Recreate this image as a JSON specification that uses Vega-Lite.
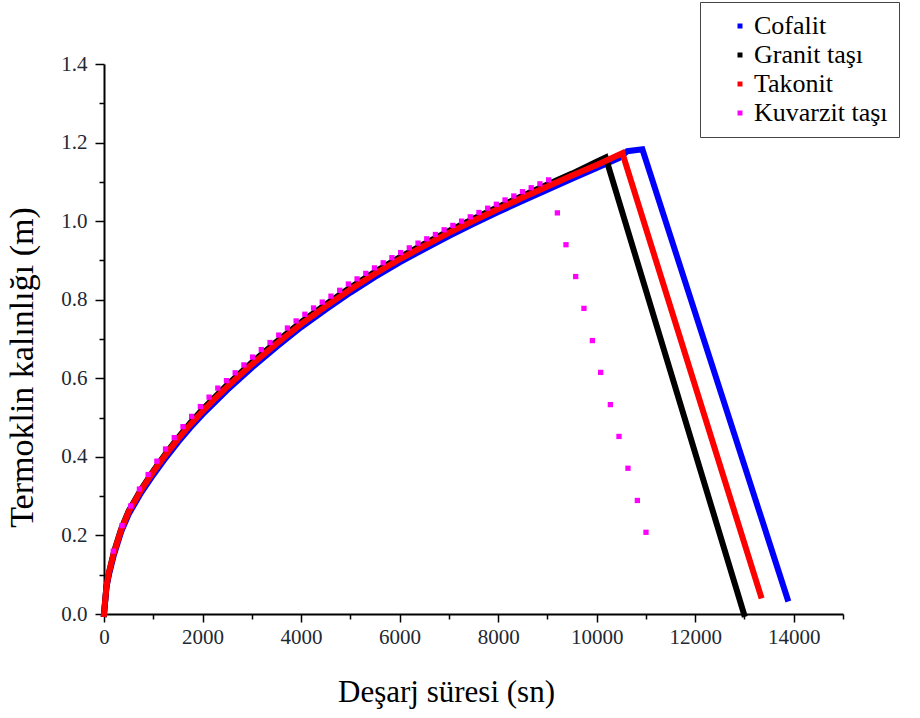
{
  "$schema": "https://vega.github.io/schema/vega-lite/v6.json",
  "width": 739,
  "height": 550,
  "autosize": {"type": "none"},
  "padding": {"left": 104, "top": 64, "right": 77, "bottom": 104},
  "background": "white",
  "config": {"view": {"stroke": null}},
  "datasets": {
    "curves": [
      {"series": "Cofalit", "t": 0, "y": 0},
      {"series": "Cofalit", "t": 50, "y": 0.068},
      {"series": "Cofalit", "t": 100, "y": 0.1},
      {"series": "Cofalit", "t": 200, "y": 0.15},
      {"series": "Cofalit", "t": 350, "y": 0.21},
      {"series": "Cofalit", "t": 500, "y": 0.254},
      {"series": "Cofalit", "t": 750, "y": 0.308},
      {"series": "Cofalit", "t": 1000, "y": 0.354},
      {"series": "Cofalit", "t": 1250, "y": 0.397},
      {"series": "Cofalit", "t": 1500, "y": 0.437},
      {"series": "Cofalit", "t": 1750, "y": 0.474},
      {"series": "Cofalit", "t": 2000, "y": 0.508},
      {"series": "Cofalit", "t": 2500, "y": 0.57},
      {"series": "Cofalit", "t": 3000, "y": 0.627},
      {"series": "Cofalit", "t": 3500, "y": 0.68},
      {"series": "Cofalit", "t": 4000, "y": 0.73},
      {"series": "Cofalit", "t": 4500, "y": 0.775},
      {"series": "Cofalit", "t": 5000, "y": 0.818},
      {"series": "Cofalit", "t": 5500, "y": 0.858},
      {"series": "Cofalit", "t": 6000, "y": 0.895},
      {"series": "Cofalit", "t": 6500, "y": 0.929},
      {"series": "Cofalit", "t": 7000, "y": 0.962},
      {"series": "Cofalit", "t": 7500, "y": 0.993},
      {"series": "Cofalit", "t": 8000, "y": 1.023},
      {"series": "Cofalit", "t": 8500, "y": 1.052},
      {"series": "Cofalit", "t": 9000, "y": 1.08},
      {"series": "Cofalit", "t": 9500, "y": 1.108},
      {"series": "Cofalit", "t": 10000, "y": 1.135},
      {"series": "Cofalit", "t": 10450, "y": 1.16},
      {"series": "Cofalit", "t": 10623, "y": 1.178},
      {"series": "Cofalit", "t": 10928, "y": 1.183},
      {"series": "Cofalit", "t": 13872, "y": 0.039},
      {"series": "Granit taşı", "t": 0, "y": 0},
      {"series": "Granit taşı", "t": 50, "y": 0.07},
      {"series": "Granit taşı", "t": 100, "y": 0.105},
      {"series": "Granit taşı", "t": 200, "y": 0.157},
      {"series": "Granit taşı", "t": 350, "y": 0.217},
      {"series": "Granit taşı", "t": 500, "y": 0.262},
      {"series": "Granit taşı", "t": 750, "y": 0.317},
      {"series": "Granit taşı", "t": 1000, "y": 0.364},
      {"series": "Granit taşı", "t": 1250, "y": 0.408},
      {"series": "Granit taşı", "t": 1500, "y": 0.448},
      {"series": "Granit taşı", "t": 1750, "y": 0.486},
      {"series": "Granit taşı", "t": 2000, "y": 0.521},
      {"series": "Granit taşı", "t": 2500, "y": 0.583},
      {"series": "Granit taşı", "t": 3000, "y": 0.64},
      {"series": "Granit taşı", "t": 3500, "y": 0.693},
      {"series": "Granit taşı", "t": 4000, "y": 0.743},
      {"series": "Granit taşı", "t": 4500, "y": 0.788},
      {"series": "Granit taşı", "t": 5000, "y": 0.831},
      {"series": "Granit taşı", "t": 5500, "y": 0.871},
      {"series": "Granit taşı", "t": 6000, "y": 0.908},
      {"series": "Granit taşı", "t": 6500, "y": 0.942},
      {"series": "Granit taşı", "t": 7000, "y": 0.975},
      {"series": "Granit taşı", "t": 7500, "y": 1.006},
      {"series": "Granit taşı", "t": 8000, "y": 1.036},
      {"series": "Granit taşı", "t": 8500, "y": 1.065},
      {"series": "Granit taşı", "t": 9000, "y": 1.093},
      {"series": "Granit taşı", "t": 9500, "y": 1.121},
      {"series": "Granit taşı", "t": 10000, "y": 1.151},
      {"series": "Granit taşı", "t": 10183, "y": 1.162},
      {"series": "Granit taşı", "t": 12990, "y": 0},
      {"series": "Takonit", "t": 0, "y": 0},
      {"series": "Takonit", "t": 50, "y": 0.07},
      {"series": "Takonit", "t": 100, "y": 0.105},
      {"series": "Takonit", "t": 200, "y": 0.155},
      {"series": "Takonit", "t": 350, "y": 0.215},
      {"series": "Takonit", "t": 500, "y": 0.26},
      {"series": "Takonit", "t": 750, "y": 0.315},
      {"series": "Takonit", "t": 1000, "y": 0.362},
      {"series": "Takonit", "t": 1250, "y": 0.405},
      {"series": "Takonit", "t": 1500, "y": 0.445},
      {"series": "Takonit", "t": 1750, "y": 0.482},
      {"series": "Takonit", "t": 2000, "y": 0.516},
      {"series": "Takonit", "t": 2250, "y": 0.548},
      {"series": "Takonit", "t": 2500, "y": 0.578},
      {"series": "Takonit", "t": 2750, "y": 0.607},
      {"series": "Takonit", "t": 3000, "y": 0.635},
      {"series": "Takonit", "t": 3500, "y": 0.688},
      {"series": "Takonit", "t": 4000, "y": 0.738},
      {"series": "Takonit", "t": 4500, "y": 0.783},
      {"series": "Takonit", "t": 5000, "y": 0.826},
      {"series": "Takonit", "t": 5500, "y": 0.866},
      {"series": "Takonit", "t": 6000, "y": 0.903},
      {"series": "Takonit", "t": 6500, "y": 0.937},
      {"series": "Takonit", "t": 7000, "y": 0.97},
      {"series": "Takonit", "t": 7500, "y": 1.001},
      {"series": "Takonit", "t": 8000, "y": 1.031},
      {"series": "Takonit", "t": 8500, "y": 1.06},
      {"series": "Takonit", "t": 9000, "y": 1.088},
      {"series": "Takonit", "t": 9500, "y": 1.116},
      {"series": "Takonit", "t": 10000, "y": 1.143},
      {"series": "Takonit", "t": 10522, "y": 1.173},
      {"series": "Takonit", "t": 13330, "y": 0.047}
    ],
    "kuvarzit": [
      {"series": "Kuvarzit taşı", "t": 189, "y": 0.16},
      {"series": "Kuvarzit taşı", "t": 366, "y": 0.225},
      {"series": "Kuvarzit taşı", "t": 542, "y": 0.275},
      {"series": "Kuvarzit taşı", "t": 719, "y": 0.318},
      {"series": "Kuvarzit taşı", "t": 896, "y": 0.355},
      {"series": "Kuvarzit taşı", "t": 1073, "y": 0.389},
      {"series": "Kuvarzit taşı", "t": 1249, "y": 0.42},
      {"series": "Kuvarzit taşı", "t": 1426, "y": 0.449},
      {"series": "Kuvarzit taşı", "t": 1603, "y": 0.477},
      {"series": "Kuvarzit taşı", "t": 1779, "y": 0.503},
      {"series": "Kuvarzit taşı", "t": 1956, "y": 0.528},
      {"series": "Kuvarzit taşı", "t": 2133, "y": 0.552},
      {"series": "Kuvarzit taşı", "t": 2310, "y": 0.575},
      {"series": "Kuvarzit taşı", "t": 2486, "y": 0.594},
      {"series": "Kuvarzit taşı", "t": 2663, "y": 0.614},
      {"series": "Kuvarzit taşı", "t": 2840, "y": 0.634},
      {"series": "Kuvarzit taşı", "t": 3016, "y": 0.654},
      {"series": "Kuvarzit taşı", "t": 3193, "y": 0.673},
      {"series": "Kuvarzit taşı", "t": 3370, "y": 0.691},
      {"series": "Kuvarzit taşı", "t": 3547, "y": 0.71},
      {"series": "Kuvarzit taşı", "t": 3723, "y": 0.728},
      {"series": "Kuvarzit taşı", "t": 3900, "y": 0.746},
      {"series": "Kuvarzit taşı", "t": 4077, "y": 0.763},
      {"series": "Kuvarzit taşı", "t": 4253, "y": 0.779},
      {"series": "Kuvarzit taşı", "t": 4430, "y": 0.794},
      {"series": "Kuvarzit taşı", "t": 4607, "y": 0.809},
      {"series": "Kuvarzit taşı", "t": 4784, "y": 0.824},
      {"series": "Kuvarzit taşı", "t": 4960, "y": 0.84},
      {"series": "Kuvarzit taşı", "t": 5137, "y": 0.853},
      {"series": "Kuvarzit taşı", "t": 5314, "y": 0.867},
      {"series": "Kuvarzit taşı", "t": 5490, "y": 0.881},
      {"series": "Kuvarzit taşı", "t": 5667, "y": 0.894},
      {"series": "Kuvarzit taşı", "t": 5844, "y": 0.907},
      {"series": "Kuvarzit taşı", "t": 6021, "y": 0.92},
      {"series": "Kuvarzit taşı", "t": 6197, "y": 0.932},
      {"series": "Kuvarzit taşı", "t": 6374, "y": 0.944},
      {"series": "Kuvarzit taşı", "t": 6551, "y": 0.955},
      {"series": "Kuvarzit taşı", "t": 6727, "y": 0.966},
      {"series": "Kuvarzit taşı", "t": 6904, "y": 0.978},
      {"series": "Kuvarzit taşı", "t": 7081, "y": 0.989},
      {"series": "Kuvarzit taşı", "t": 7258, "y": 1.0},
      {"series": "Kuvarzit taşı", "t": 7434, "y": 1.011},
      {"series": "Kuvarzit taşı", "t": 7611, "y": 1.022},
      {"series": "Kuvarzit taşı", "t": 7788, "y": 1.033},
      {"series": "Kuvarzit taşı", "t": 7964, "y": 1.043},
      {"series": "Kuvarzit taşı", "t": 8141, "y": 1.054},
      {"series": "Kuvarzit taşı", "t": 8318, "y": 1.064},
      {"series": "Kuvarzit taşı", "t": 8495, "y": 1.075},
      {"series": "Kuvarzit taşı", "t": 8671, "y": 1.085},
      {"series": "Kuvarzit taşı", "t": 8848, "y": 1.095},
      {"series": "Kuvarzit taşı", "t": 9025, "y": 1.105},
      {"series": "Kuvarzit taşı", "t": 9202, "y": 1.021},
      {"series": "Kuvarzit taşı", "t": 9377, "y": 0.94},
      {"series": "Kuvarzit taşı", "t": 9574, "y": 0.859},
      {"series": "Kuvarzit taşı", "t": 9742, "y": 0.778},
      {"series": "Kuvarzit taşı", "t": 9913, "y": 0.696},
      {"series": "Kuvarzit taşı", "t": 10081, "y": 0.615},
      {"series": "Kuvarzit taşı", "t": 10278, "y": 0.533},
      {"series": "Kuvarzit taşı", "t": 10453, "y": 0.452},
      {"series": "Kuvarzit taşı", "t": 10635, "y": 0.371},
      {"series": "Kuvarzit taşı", "t": 10826, "y": 0.289},
      {"series": "Kuvarzit taşı", "t": 11001, "y": 0.208}
    ]
  },
  "encoding": {
    "x": {
      "field": "t",
      "type": "quantitative",
      "scale": {"domain": [0, 15000], "nice": false, "zero": false},
      "axis": {
        "title": "Deşarj süresi (sn)",
        "values": [0, 1000, 2000, 3000, 4000, 5000, 6000, 7000, 8000, 9000, 10000, 11000, 12000, 13000, 14000, 15000],
        "format": "d",
        "labelExpr": "datum.value % 2000 === 0 && datum.value <= 14000 ? datum.label : ''",
        "grid": false,
        "domainColor": "#000000",
        "domainWidth": 2,
        "tickColor": "#000000",
        "tickWidth": 1.5,
        "tickSize": {"condition": {"test": "datum.value % 2000 === 0", "value": 8}, "value": 5},
        "labelFont": "'Liberation Serif', 'Times New Roman', serif",
        "labelFontSize": 21,
        "labelColor": "#222833",
        "labelPadding": 4,
        "labelFlush": false,
        "labelOverlap": false,
        "titleFont": "'Liberation Serif', 'Times New Roman', serif",
        "titleFontSize": 31,
        "titleFontWeight": "normal",
        "titleColor": "#000000",
        "titleX": 342,
        "titleY": 87,
        "titleBaseline": "alphabetic"
      }
    },
    "y": {
      "field": "y",
      "type": "quantitative",
      "scale": {"domain": [0, 1.4], "nice": false, "zero": false},
      "axis": {
        "title": "Termoklin kalınlığı (m)",
        "values": [0, 0.1, 0.2, 0.3, 0.4, 0.5, 0.6, 0.7, 0.8, 0.9, 1.0, 1.1, 1.2, 1.3, 1.4],
        "format": ".1f",
        "labelExpr": "round(datum.value * 10) % 2 === 0 ? datum.label : ''",
        "grid": false,
        "domainColor": "#000000",
        "domainWidth": 2,
        "tickColor": "#000000",
        "tickWidth": 1.5,
        "tickSize": {"condition": {"test": "round(datum.value * 10) % 2 === 0", "value": 9}, "value": 5},
        "labelFont": "'Liberation Serif', 'Times New Roman', serif",
        "labelFontSize": 21,
        "labelColor": "#222833",
        "labelPadding": 8,
        "labelFlush": false,
        "labelOverlap": false,
        "titleFont": "'Liberation Serif', 'Times New Roman', serif",
        "titleFontSize": 34,
        "titleFontWeight": "normal",
        "titleColor": "#000000",
        "titleX": -72,
        "titleY": 303,
        "titleAngle": 270,
        "titleBaseline": "alphabetic"
      }
    },
    "color": {
      "field": "series",
      "type": "nominal",
      "scale": {
        "domain": ["Cofalit", "Granit taşı", "Takonit", "Kuvarzit taşı"],
        "range": ["#0000ff", "#000000", "#ff0000", "#ff00ff"]
      }
    }
  },
  "layer": [
    {
      "data": {"name": "curves"},
      "mark": {"type": "line", "strokeWidth": 6, "strokeJoin": "miter", "strokeCap": "square"},
      "encoding": {
        "color": {
          "field": "series",
          "type": "nominal",
          "scale": {
            "domain": ["Cofalit", "Granit taşı", "Takonit", "Kuvarzit taşı"],
            "range": ["#0000ff", "#000000", "#ff0000", "#ff00ff"]
          },
          "legend": null
        },
        "order": {"field": "t", "type": "quantitative"}
      }
    },
    {
      "data": {"name": "kuvarzit"},
      "mark": {"type": "point", "shape": "square", "filled": true, "size": 28, "opacity": 1},
      "encoding": {
        "color": {
          "field": "series",
          "type": "nominal",
          "scale": {
            "domain": ["Cofalit", "Granit taşı", "Takonit", "Kuvarzit taşı"],
            "range": ["#0000ff", "#000000", "#ff0000", "#ff00ff"]
          },
          "legend": {
            "title": null,
            "orient": "none",
            "legendX": 596,
            "legendY": -62,
            "symbolType": "square",
            "symbolSize": 25,
            "symbolOffset": 16,
            "labelOffset": 1,
            "labelFont": "'Liberation Serif', 'Times New Roman', serif",
            "labelFontSize": 26,
            "labelColor": "#000000",
            "rowPadding": 3,
            "padding": 11,
            "strokeColor": "#444444",
            "fillColor": "white",
            "labelLimit": 300
          }
        }
      }
    }
  ],
  "resolve": {"legend": {"color": "independent"}}
}
